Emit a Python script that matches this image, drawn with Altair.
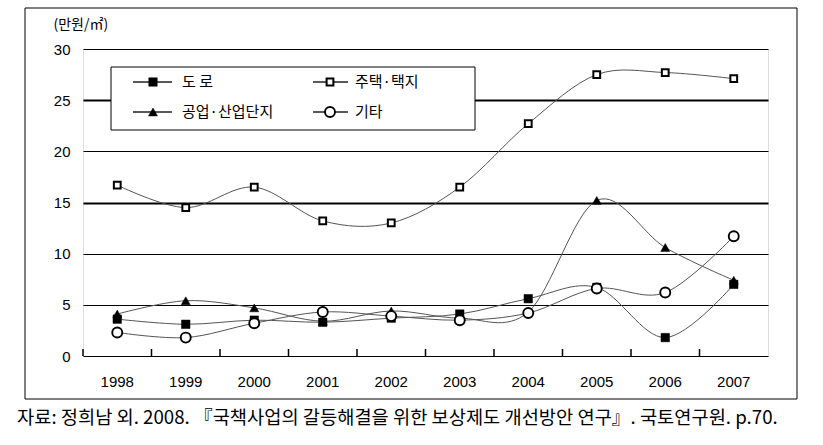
import altair as alt
import pandas as pd

years = [1998, 1999, 2000, 2001, 2002, 2003, 2004, 2005, 2006, 2007]
series_names = ["도 로", "주택·택지", "공업·산업단지", "기타"]
road = [3.6, 3.1, 3.5, 3.3, 3.7, 4.1, 5.6, 6.7, 1.8, 7.0]
housing = [16.7, 14.5, 16.5, 13.2, 13.0, 16.5, 22.7, 27.5, 27.7, 27.1]
industry = [4.1, 5.4, 4.7, 3.4, 4.4, 3.7, 4.3, 15.2, 10.6, 7.4]
other = [2.3, 1.8, 3.2, 4.3, 3.9, 3.5, 4.2, 6.6, 6.2, 11.7]
y_ticks = [0, 5, 10, 15, 20, 25, 30]
unit_label = "(만원/㎡)"
source_note = "자료: 정희남 외. 2008. 『국책사업의 갈등해결을 위한 보상제도 개선방안 연구』. 국토연구원. p.70."

values_by_series = [road, housing, industry, other]
rows = []
for name, vals in zip(series_names, values_by_series):
    for y, v in zip(years, vals):
        rows.append({"year": y, "series": name, "value": v})
df = pd.DataFrame(rows)
one = pd.DataFrame({"k": [0]})

W, H = 685, 307
KFONT = "Noto Sans CJK KR"
NFONT = "Liberation Sans"

xscale = alt.Scale(paddingInner=0, paddingOuter=0)
xaxis = alt.Axis(title=None, domain=False, ticks=False, labelAngle=0,
                 labelFont=NFONT, labelFontSize=15, labelColor="black",
                 labelFontWeight="normal",
                 labelPadding=18, grid=False)
yaxis = alt.Axis(values=y_ticks, domain=False, ticks=False,
                 labelFont=NFONT, labelFontSize=15, labelColor="black",
                 labelFontWeight="normal",
                 labelPadding=13, grid=True, gridColor="black",
                 gridWidth={"condition": {"test": "datum.value == 15 || datum.value == 25", "value": 2}, "value": 1},
                 title=unit_label, titleAngle=0, titleX=-30, titleY=-25,
                 titleAlign="left", titleBaseline="middle",
                 titleFont=KFONT, titleFontSize=14, titleFontWeight="normal", titleColor="black")

base = alt.Chart(df).encode(
    x=alt.X("year:O", scale=xscale, axis=xaxis),
    y=alt.Y("value:Q", scale=alt.Scale(domain=[0, 30]), axis=yaxis),
)

ticks = alt.Chart(pd.DataFrame({"year": years})).mark_rule(color="black", strokeWidth=1.5).encode(
    x=alt.X("year:O", scale=xscale, bandPosition=0, axis=xaxis),
    y=alt.value(H),
    y2=alt.value(H - 7),
)

outer = alt.Chart(one).mark_rect(fillOpacity=0, stroke="black", strokeWidth=1).encode(
    x=alt.value(-58), x2=alt.value(714), y=alt.value(-41), y2=alt.value(350)
)

legend_box = alt.Chart(one).mark_rect(fill="white", stroke="black", strokeWidth=1).encode(
    x=alt.value(28), x2=alt.value(392), y=alt.value(18), y2=alt.value(81)
)

lines = base.mark_line(interpolate="cardinal", color="#555555", strokeWidth=1).encode(
    detail="series:N"
)

styles = {
    "도 로": dict(shape="square", fill="black", strokeWidth=0.5, size=72),
    "주택·택지": dict(shape="square", fill="white", strokeWidth=2, size=46),
    "공업·산업단지": dict(shape="triangle-up", fill="black", strokeWidth=0.5, size=82),
    "기타": dict(shape="circle", fill="white", strokeWidth=1.9, size=100),
}
draw_order = ["주택·택지", "공업·산업단지", "도 로", "기타"]

point_layers = []
for name in draw_order:
    st = styles[name]
    point_layers.append(
        base.transform_filter(alt.datum.series == name).mark_point(
            shape=st["shape"], filled=True, fill=st["fill"], stroke="black",
            strokeWidth=st["strokeWidth"], size=st["size"], opacity=1
        )
    )

legend_layers = []
col_pos = [(50, 89, 70, 99), (230, 265, 247, 272)]
row_pos = [33, 63]
for i, name in enumerate(series_names):
    st = styles[name]
    x0, x1, xm, xt = col_pos[i % 2]
    yr = row_pos[i // 2]
    legend_layers.append(alt.Chart(one).mark_rule(color="#222222", strokeWidth=1.5).encode(
        x=alt.value(x0), x2=alt.value(x1), y=alt.value(yr)))
    legend_layers.append(alt.Chart(one).mark_point(
        shape=st["shape"], filled=True, fill=st["fill"], stroke="black",
        strokeWidth=st["strokeWidth"], size=st["size"], opacity=1).encode(
        x=alt.value(xm), y=alt.value(yr)))
    legend_layers.append(alt.Chart(one).mark_text(
        text=name, align="left", baseline="middle", font=KFONT, fontSize=15, color="black").encode(
        x=alt.value(xt), y=alt.value(yr)))

note = alt.Chart(one).mark_text(
    text=source_note, align="left", baseline="middle", font=KFONT, fontSize=18.7, color="black"
).encode(x=alt.value(-66), y=alt.value(369))

chart = alt.layer(
    outer, ticks, legend_box, lines, *point_layers, *legend_layers, note
).properties(
    width=W, height=H,
    autosize=alt.AutoSizeParams(type="none"),
    padding={"left": 83, "top": 49, "right": 823 - 83 - W, "bottom": 445 - 49 - H},
).configure_view(stroke="black", strokeWidth=2).configure(background="white")

chart.save("out.html", embed_options={"renderer": "svg", "actions": False})
